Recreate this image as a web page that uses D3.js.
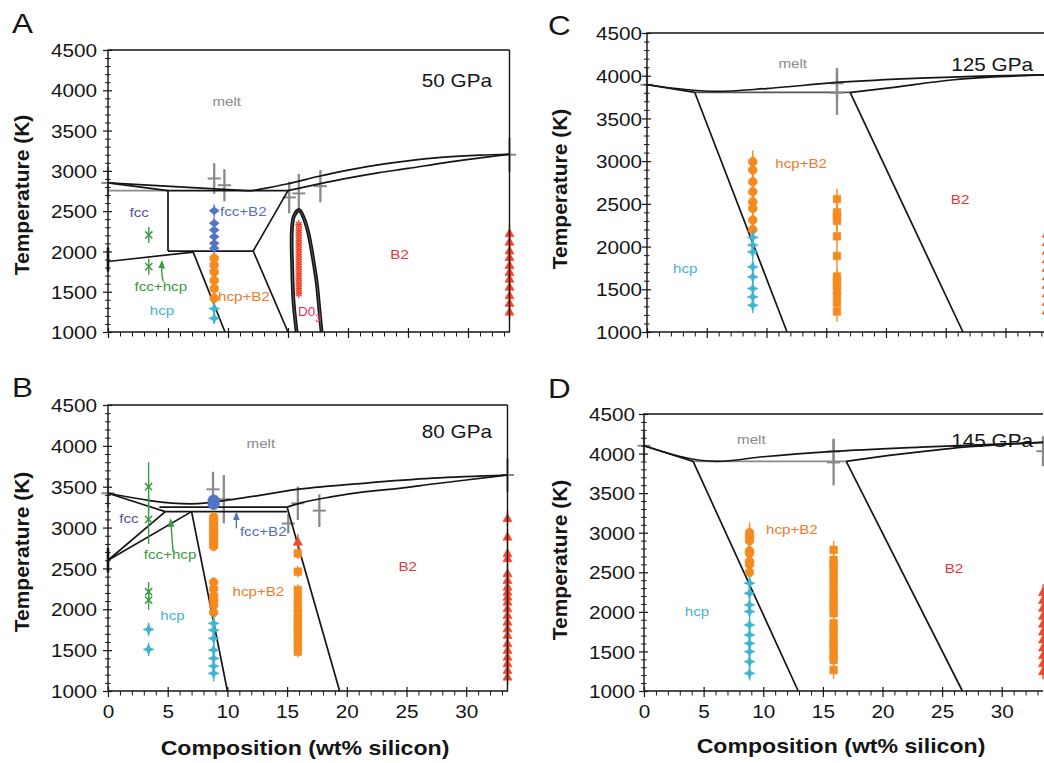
<!DOCTYPE html>
<html><head><meta charset="utf-8">
<script src="https://cdn.jsdelivr.net/npm/d3@7"></script>
<style>body{margin:0;background:#fff}svg{display:block}</style>
</head><body>
<svg id="c" width="1044" height="763"></svg>
<script>
// ================= DATA =================
const X_MAX = 33.46;                      // FeSi composition (wt% Si)
const xMajor = [0,5,10,15,20,25,30];
const yMajor = [1000,1500,2000,2500,3000,3500,4000,4500];
const X_FE3 = 3.4, X_FE9 = 8.85, X_FE16 = 15.9, X_FESI = 33.46;

// ---- Panel A : 50 GPa ----
const A_lines = [
  [[0,2850],[11.9,2752]],
  [[0,2850],[5,2755]],
  [[5,2755],[15,2755]],
  [[5,2755],[5,2005]],
  [[0,1875],[7.1,1992]],
  [[5,2005],[12.1,2005]],
  [[12.1,2005],[15,2755]],
  [[12.1,2005],[15,1000]],
  [[7.1,1992],[9.75,1000]],
  [[11.9,2752],[15,2840],[17.5,2930],[20,3010],[22.5,3075],[25,3125],[28,3170],[31,3195],[33.46,3206]],
  [[15,2755],[17.5,2835],[20,2910],[22.5,2975],[25,3030],[28,3100],[31,3160],[33.46,3206]]
];
const A_grayLines = [[[0,2755],[5,2755]]];
const A_D0 = [[15.72,1000],[15.45,1400],[15.35,1800],[15.32,2250],[15.5,2440],[15.94,2514],[16.3,2420],[16.7,2225],[17.1,1900],[17.4,1605],[17.6,1300],[17.8,1000]];
const A_melt = [[0,2850,200],[8.85,2905,190],[9.7,2822,200],[15.1,2670,196],[15.9,2720,242],[17.7,2810,200],[33.46,3200,210]];
const A_feBar = [0,1900,150];
const A_green = [2204,1811];
const A_blue = [2506,2350,2266,2183,2101,2039];
const A_orange9 = [1915,1830,1745,1640,1540,1420];
const A_cyan9 = [1290,1170];
const A_redD0 = [2330,2260,2200,2140,2080,2020,1960,1900,1840,1780,1720,1660,1600,1540,1480];
const A_redFeSi = [2225,2120,2010,1930,1830,1745,1660,1560,1455,1360,1252];
const A_arrows = [[[4.6,1624],[4.45,1740],[4.5,1872]]];

// ---- Panel B : 80 GPa ----
const B_lines = [
  [[0,3420],[7,3290],[10.5,3345],[16,3470],[21.6,3545],[27.2,3605],[33.46,3643]],
  [[0,3420],[4.8,3195]],
  [[4.3,3250],[15,3250]],
  [[4.8,3195],[15,3195]],
  [[0,2600],[4.8,3195]],
  [[0,2600],[7,3195]],
  [[7,3195],[10,1000]],
  [[15,3250],[19.4,1000]],
  [[15,3250],[16,3296],[18.8,3378],[21.6,3439],[24.4,3480],[27.2,3533],[30,3582],[33.46,3643]]
];
const B_melt = [[0,3420,170],[8.8,3468,215],[9.7,3347,295],[15.1,3050,120],[15.9,3297,205],[17.7,3207,200],[33.46,3643,205]];
const B_feBar = [0,2600,150];
const B_greenHi = [3500,3100];
const B_greenLo = [2215,2113];
const B_cyan3 = [1754,1509];
const B_blue = [3330,3290];
const B_orange9 = [3130,3090,3050,3010,2970,2930,2890,2850,2810,2770,2330,2250,2170,2110,2050,1960];
const B_cyan9 = [1828,1746,1644,1501,1399,1305,1216];
const B_red16 = [2827];
const B_orange16 = [2684,2460,2236,2154,2072,2011,1950,1889,1828,1787,1726,1664,1603,1542,1481];
const B_redFeSi = [3113,2888,2684,2623,2440,2358,2276,2215,2154,2093,2011,1930,1848,1766,1685,1583,1501,1419,1338,1256,1175];
const B_greenArrows = [[[5.45,2705],[5.25,3092]]];
const B_blueArrows = [[[10.75,2990],[10.75,3173]]];

// ---- Panel C : 125 GPa ----
const C_lines = [
  [[0,3894],[5.86,3816],[10,3850],[15.9,3921],[22.9,3972],[28,3995],[33.46,4011]],
  [[0,3894],[4.0,3804]],
  [[17.0,3804],[20.1,3855],[25.7,3953],[33.46,4011]],
  [[4.0,3804],[11.72,1000]],
  [[17.0,3804],[26.44,1000]]
];
const C_grayLines = [[[4.0,3804],[17.0,3804]]];
const C_melt = [[0,3894,195],[15.9,3910,180],[15.9,3800,260]];
const C_orange9 = [2994,2897,2760,2643,2525,2447,2310,2200];
const C_cyan9 = [2107,2017,1938,1762,1645,1508,1410,1313];
const C_orange16 = [2556,2400,2350,2300,2120,1890,1650,1600,1550,1490,1420,1340,1240];
const C_redFeSi = [2150,2050,1950,1850,1750,1650,1550,1450,1350,1250];

// ---- Panel D : 145 GPa ----
const D_lines = [
  [[0,4099],[6.08,3901],[10,3960],[15.9,4028],[23.2,4082],[33.46,4141]],
  [[0,4099],[4.12,3901]],
  [[16.96,3901],[20.4,3973],[26,4070],[33.46,4141]],
  [[4.12,3901],[12.93,1000]],
  [[16.96,3901],[26.7,1000]]
];
const D_grayLines = [[[4.12,3901],[16.96,3901]]];
const D_melt = [[0,4099,190],[15.9,4027,160],[15.9,3888,290],[33.46,4030,190]];
const D_orange9 = [3000,2950,2900,2770,2740,2640,2600,2500];
const D_cyan9 = [2362,2235,2088,2003,1834,1708,1602,1497,1370,1223];
const D_orange16 = [2783,2657,2594,2530,2467,2404,2320,2235,2172,2109,2045,1982,1856,1792,1729,1645,1581,1518,1455,1392,1265];
const D_redFeSi = [2250,2150,2050,1950,1850,1750,1650,1550,1450,1350,1250];

// ---- phase labels [text, x(wt%), T(K), kind, anchor] ----
const A_labels = [["melt",9.9,3805,"melt","middle"],["fcc",2.6,2430,"fcc","middle"],["fcc+B2",9.33,2440,"fccB2","start"],
  ["fcc+hcp",4.4,1510,"fcchcp","middle"],["hcp+B2",9.17,1385,"hcpB2","start"],["hcp",4.5,1210,"hcp","middle"],["B2",24.3,1906,"B2","middle"]];
const B_labels = [["melt",12.8,3974,"melt","middle"],["fcc",1.76,3056,"fcc","middle"],["fcc+hcp",5.2,2615,"fcchcp","middle"],
  ["fcc+B2",11.05,2897,"fccB2","start"],["hcp+B2",12.6,2162,"hcpB2","middle"],["hcp",5.4,1868,"hcp","middle"],["B2",25.1,2468,"B2","middle"]];
const C_labels = [["melt",12.2,4089,"melt","middle"],["hcp+B2",12.9,2916,"hcpB2","middle"],["B2",26.2,2494,"B2","middle"],["hcp",3.2,1685,"hcp","middle"]];
const D_labels = [["melt",9.0,4124,"melt","middle"],["hcp+B2",12.4,2985,"hcpB2","middle"],["B2",26,2487,"B2","middle"],["hcp",4.45,1948,"hcp","middle"]];
const pressures = ["50 GPa","80 GPa","125 GPa","145 GPa"];
const letters = ["A","B","C","D"];

// ================= STYLE / LAYOUT =================
const COL = {ink:'#151515', gray:'#8a8a8a', blue:'#5274c6', orange:'#f58a1f', cyan:'#3fb3cf', green:'#3b9a42',
  red:'#f2472c', purple:'#5a4c9f', labRed:'#e8333c', pink:'#e6305a'};
const LABCOL = {melt:'#8a8a8a', fcc:'#5a4c9f', fccB2:'#4f6fc4', fcchcp:'#3b9a42', hcpB2:'#f07a2a', hcp:'#45b3d0', B2:'#e8333c'};
const FONT = "'Liberation Sans', Arial, Helvetica, sans-serif";

const panels = [
  {key:'A', left:108, right:509.5, top:50, bottom:332, xLab:false, yPad:6, frameRight:true,
   letter:[12,33], ytitle:[29,195], xtitle:null, press:[492,87]},
  {key:'B', left:108, right:507.5, top:405, bottom:691, xLab:true, yPad:6, frameRight:true,
   letter:[12,397], ytitle:[29,552], xtitle:[305,755], press:[492,438]},
  {key:'C', left:647, right:1046.8, top:33, bottom:332, xLab:false, yPad:0, frameRight:false,
   letter:[548,35], ytitle:[567,189], xtitle:null, press:[1033,71]},
  {key:'D', left:644, right:1043, top:414, bottom:691, xLab:true, yPad:4, frameRight:false,
   letter:[548,398], ytitle:[567,560], xtitle:[841,753], press:[1033,447]}
];

const panelData = {
  A:{lines:A_lines, gray:A_grayLines, melt:A_melt, bar:A_feBar, lens:A_D0, labels:A_labels,
     arrows:[{pts:A_arrows, color:COL.green}],
     series:[
      {x:X_FE3, T:A_green, shape:'x', color:COL.green, err:100, r:3.6},
      {x:X_FE9, T:A_blue, shape:'diamond', color:COL.blue, err:75, r:5},
      {x:X_FE9, T:A_orange9, shape:'oct', color:COL.orange, err:65, r:4.6},
      {x:X_FE9, T:A_cyan9, shape:'star4', color:COL.cyan, err:70, r:5.5},
      {x:X_FE16, T:A_redD0, shape:'ast', color:COL.red, err:60, r:2.8},
      {x:X_FESI, T:A_redFeSi, shape:'tri', color:COL.red, err:110, r:4.8}
     ]},
  B:{lines:B_lines, gray:[], melt:B_melt, bar:B_feBar, lens:null, labels:B_labels,
     arrows:[{pts:B_greenArrows, color:COL.green},{pts:B_blueArrows, color:COL.blue}],
     series:[
      {x:X_FE3, T:B_greenHi, shape:'x', color:COL.green, err:300, r:3.6},
      {x:X_FE3, T:B_greenLo, shape:'x', color:COL.green, err:120, r:3.6},
      {x:X_FE3, T:B_cyan3, shape:'star4', color:COL.cyan, err:80, r:5.5},
      {x:X_FE9, T:B_blue, shape:'circ', color:COL.blue, err:40, r:5.8},
      {x:X_FE9, T:B_orange9, shape:'oct', color:COL.orange, err:60, r:4.6},
      {x:X_FE9, T:B_cyan9, shape:'star4', color:COL.cyan, err:100, r:5.5},
      {x:X_FE16, T:B_red16, shape:'tri', color:COL.red, err:90, r:4.8},
      {x:X_FE16, T:B_orange16, shape:'square', color:COL.orange, err:70, r:3.8},
      {x:X_FESI, T:B_redFeSi, shape:'tri', color:COL.red, err:100, r:4.8}
     ]},
  C:{lines:C_lines, gray:C_grayLines, melt:C_melt, bar:null, lens:null, labels:C_labels, arrows:[],
     series:[
      {x:X_FE9, T:C_orange9, shape:'oct', color:COL.orange, err:130, r:4.6},
      {x:X_FE9, T:C_cyan9, shape:'star4', color:COL.cyan, err:90, r:5.5},
      {x:X_FE16, T:C_orange16, shape:'square', color:COL.orange, err:120, r:3.8},
      {x:X_FESI, T:C_redFeSi, shape:'tri', color:COL.red, err:100, r:4.8}
     ]},
  D:{lines:D_lines, gray:D_grayLines, melt:D_melt, bar:null, lens:null, labels:D_labels, arrows:[],
     series:[
      {x:X_FE9, T:D_orange9, shape:'oct', color:COL.orange, err:130, r:4.6},
      {x:X_FE9, T:D_cyan9, shape:'star4', color:COL.cyan, err:90, r:5.5},
      {x:X_FE16, T:D_orange16, shape:'square', color:COL.orange, err:110, r:3.8},
      {x:X_FESI, T:D_redFeSi, shape:'tri', color:COL.red, err:100, r:4.8}
     ]}
};

// ================= DRAW =================
const svg = d3.select('#c');
const defs = svg.append('defs');
function arrowMarker(id, color){
  defs.append('marker').attr('id',id).attr('viewBox','0 0 10 10').attr('refX',8).attr('refY',5)
    .attr('markerWidth',6).attr('markerHeight',6).attr('orient','auto')
    .append('path').attr('d','M0,1L10,5L0,9Z').attr('fill',color);
}
function stretch(sel, f){
  f = f || 1.12;
  sel.each(function(){
    const L = this.getComputedTextLength();
    if (L > 0) { this.setAttribute('textLength', L*f); this.setAttribute('lengthAdjust','spacingAndGlyphs'); }
  });
}
function symbolPath(shape, r){
  if (shape==='diamond') return `M0,${-r*0.8}L${r},0L0,${r*0.8}L${-r},0Z`;
  if (shape==='star4'){ const a=r*0.3; return `M0,${-r}L${a},${-a}L${r},0L${a},${a}L0,${r}L${-a},${a}L${-r},0L${-a},${-a}Z`; }
  if (shape==='tri') return `M0,${-r}L${r*0.95},${r*0.72}L${-r*0.95},${r*0.72}Z`;
  if (shape==='square') return `M${-r},${-r}h${2*r}v${2*r}h${-2*r}Z`;
  if (shape==='x') return `M${-r},${-r}L${r},${r}M${-r},${r}L${r},${-r}`;
  if (shape==='ast') return `M${-r},${-r}L${r},${r}M${-r},${r}L${r},${-r}M${-r*1.2},0H${r*1.2}`;
  if (shape==='oct'){ let s=''; for(let k=0;k<8;k++){ const a=Math.PI/8+k*Math.PI/4; s+=(k?'L':'M')+(r*Math.cos(a)).toFixed(2)+','+(r*Math.sin(a)).toFixed(2);} return s+'Z'; }
  if (shape==='circ') return d3.symbol(d3.symbolCircle, Math.PI*r*r)();
  return '';
}
const strokeOnly = {x:true, ast:true};

panels.forEach((p, pi) => {
  const D = panelData[p.key];
  const x = d3.scaleLinear().domain([0, X_MAX]).range([p.left, p.right]);
  const y = d3.scaleLinear().domain([1000, 4500]).range([p.bottom, p.top]);
  const g = svg.append('g');
  const line = d3.line().x(d=>x(d[0])).y(d=>y(d[1]));
  const lineC = d3.line().x(d=>x(d[0])).y(d=>y(d[1])).curve(d3.curveMonotoneX);

  D.gray.forEach(l => g.append('path').attr('d', line(l)).attr('fill','none')
      .attr('stroke', p.key==='C' ? '#555' : '#8a8a8a').attr('stroke-width',1.8));

  D.melt.forEach(m => {
    g.append('line').attr('x1',x(m[0])).attr('x2',x(m[0])).attr('y1',y(m[1]-m[2])).attr('y2',y(m[1]+m[2]))
      .attr('stroke',COL.gray).attr('stroke-width',2.3);
    g.append('line').attr('x1',x(m[0]-0.55)).attr('x2',x(m[0]+0.55)).attr('y1',y(m[1])).attr('y2',y(m[1]))
      .attr('stroke',COL.gray).attr('stroke-width',2);
  });

  D.lines.forEach(l => g.append('path').attr('d', l.length>2 ? lineC(l) : line(l)).attr('fill','none')
      .attr('stroke',COL.ink).attr('stroke-width',1.7).attr('stroke-linejoin','round'));

  if (D.lens){
    const lensLine = d3.line().x(d=>x(d[0])).y(d=>y(d[1])).curve(d3.curveCatmullRom);
    g.append('path').attr('d', lensLine(D.lens)).attr('fill','none').attr('stroke',COL.ink).attr('stroke-width',3.8);
    g.append('path').attr('d', lensLine(D.lens)).attr('fill','none').attr('stroke','#666').attr('stroke-width',0.8);
  }
  if (D.bar){
    g.append('line').attr('x1',x(D.bar[0])).attr('x2',x(D.bar[0])).attr('y1',y(D.bar[1]-D.bar[2])).attr('y2',y(D.bar[1]+D.bar[2]))
      .attr('stroke',COL.ink).attr('stroke-width',2.6);
  }

  D.series.forEach(s => {
    const sg = g.append('g');
    sg.selectAll('line').data(s.T).join('line')
      .attr('x1',x(s.x)).attr('x2',x(s.x)).attr('y1',d=>y(d-s.err)).attr('y2',d=>y(d+s.err))
      .attr('stroke',s.color).attr('stroke-width',1.4);
    sg.selectAll('path').data(s.T).join('path')
      .attr('transform',d=>`translate(${x(s.x)},${y(d)})`)
      .attr('d',symbolPath(s.shape, s.r))
      .attr('fill', strokeOnly[s.shape] ? 'none' : s.color)
      .attr('stroke', s.color).attr('stroke-width', strokeOnly[s.shape] ? 1.5 : 0.6);
  });

  D.arrows.forEach((a, ai) => {
    const id = 'arr'+p.key+ai;
    arrowMarker(id, a.color);
    a.pts.forEach(pts => g.append('path').attr('d', d3.line().x(d=>x(d[0])).y(d=>y(d[1])).curve(d3.curveBasis)(pts))
      .attr('fill','none').attr('stroke',a.color).attr('stroke-width',1.4).attr('marker-end',`url(#${id})`));
  });

  D.labels.forEach(L => {
    const t = g.append('text').attr('x',x(L[1])).attr('y',y(L[2])).attr('text-anchor',L[4])
      .attr('font-family',FONT).attr('font-size',13.5).attr('fill',LABCOL[L[3]]).text(L[0]);
    stretch(t);
  });
  if (p.key==='A'){
    const t = g.append('text').attr('x',x(15.83)).attr('y',y(1200)).attr('font-family',FONT)
      .attr('font-size',13.5).attr('fill',COL.pink);
    t.append('tspan').text('D0');
    t.append('tspan').attr('dy',6).attr('font-size',10).text('3');
  }

  const ya = g.append('g').attr('transform',`translate(${p.left},0)`)
    .call(d3.axisLeft(y).tickValues(yMajor).tickSize(5).tickPadding(p.yPad).tickFormat(d3.format('d')));
  ya.select('.domain').remove();
  ya.selectAll('.tick line').attr('x1',4).attr('stroke',COL.ink).attr('stroke-width',1.2);
  ya.selectAll('.tick text').attr('font-size',18.5).attr('font-family',FONT).attr('fill',COL.ink).attr('dy','0.36em');
  stretch(ya.selectAll('.tick text'));
  const yMinor = d3.range(1000,4501,100).filter(v=>v%500!==0);
  const ym = g.append('g').attr('transform',`translate(${p.left},0)`)
    .call(d3.axisLeft(y).tickValues(yMinor).tickSize(3).tickFormat(''));
  ym.select('.domain').remove();
  ym.selectAll('.tick line').attr('x1',2.5).attr('stroke',COL.ink).attr('stroke-width',1);

  const xa = g.append('g').attr('transform',`translate(0,${p.bottom})`)
    .call(d3.axisBottom(x).tickValues(xMajor).tickSize(6).tickPadding(8).tickFormat(p.xLab ? d3.format('d') : ''));
  xa.select('.domain').remove();
  xa.selectAll('.tick line').attr('y1',-4).attr('stroke',COL.ink).attr('stroke-width',1.2);
  xa.selectAll('.tick text').attr('font-size',18.5).attr('font-family',FONT).attr('fill',COL.ink);
  stretch(xa.selectAll('.tick text'));
  const xMinor = d3.range(1,34,1).filter(v=>v%5!==0);
  const xm = g.append('g').attr('transform',`translate(0,${p.bottom})`)
    .call(d3.axisBottom(x).tickValues(xMinor).tickSize(4.5).tickFormat(''));
  xm.select('.domain').remove();
  xm.selectAll('.tick line').attr('stroke',COL.ink).attr('stroke-width',1);

  const fr = `M${p.right},${p.top}H${p.left}V${p.bottom}H${p.right}` + (p.frameRight ? `V${p.top}` : '');
  g.append('path').attr('d',fr).attr('fill','none').attr('stroke',COL.ink).attr('stroke-width',1.4);

  stretch(g.append('text').attr('x',p.press[0]).attr('y',p.press[1]).attr('text-anchor','end')
    .attr('font-family',FONT).attr('font-size',18.5).attr('fill',COL.ink).text(pressures[pi]));
  stretch(g.append('text').attr('x',p.letter[0]).attr('y',p.letter[1])
    .attr('font-family',FONT).attr('font-size',28).attr('fill',COL.ink).text(letters[pi]));
  g.append('text').attr('transform',`translate(${p.ytitle[0]},${p.ytitle[1]}) rotate(-90)`).attr('text-anchor','middle')
    .attr('font-family',FONT).attr('font-weight','bold').attr('font-size',21).attr('fill',COL.ink).text('Temperature (K)');
  if (p.xtitle){
    stretch(g.append('text').attr('x',p.xtitle[0]).attr('y',p.xtitle[1]).attr('text-anchor','middle')
      .attr('font-family',FONT).attr('font-weight','bold').attr('font-size',21).attr('fill',COL.ink)
      .text('Composition (wt% silicon)'), 1.1);
  }
});
</script>
</body></html>
